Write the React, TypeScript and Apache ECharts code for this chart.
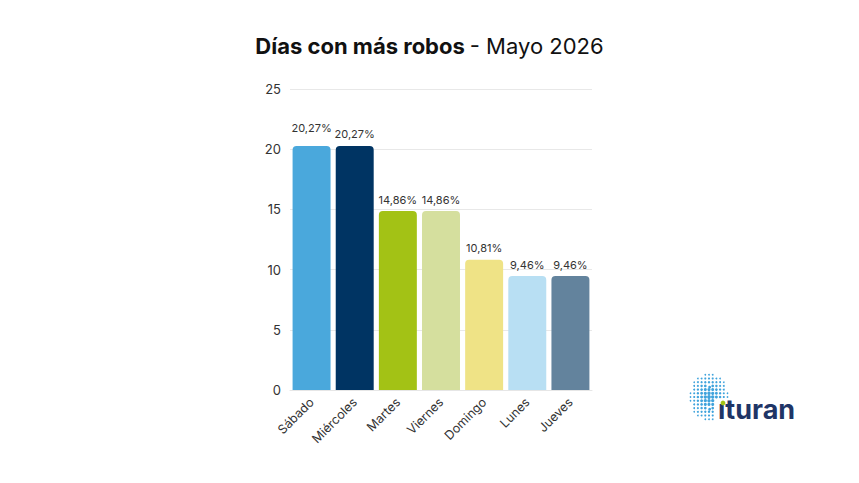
import React, { useEffect, useRef } from "react";
import * as echarts from "echarts";

const categories = ["Sábado", "Miércoles", "Martes", "Viernes", "Domingo", "Lunes", "Jueves"];
const values = [20.27, 20.27, 14.86, 14.86, 10.81, 9.46, 9.46];
const barColors = ["#4AA8DC", "#003463", "#A3C215", "#D5DF9E", "#EFE386", "#B8DFF3", "#63839D"];
const yTicks = [0, 5, 10, 15, 20, 25];

function logoDots(): any[] {
  const out: any[] = [];
  const cx = 709, cy = 397, rx = 19, ry = 24, step = 3.7;
  for (let i = -6; i <= 6; i++) {
    for (let j = -7; j <= 7; j++) {
      const x = cx + i * step;
      const y = cy + j * step;
      const d = Math.sqrt(((x - cx) / rx) ** 2 + ((y - cy) / ry) ** 2);
      if (d > 1) continue;
      if (x > 716 && y > 399) continue;
      const r = 0.8 + 1.1 * (1 - d);
      out.push({ type: "circle", shape: { cx: x, cy: y, r }, style: { fill: "#3FA3DC" }, silent: true });
    }
  }
  return out;
}

export default function App() {
  const ref = useRef<HTMLDivElement>(null);
  useEffect(() => {
    document.body.style.margin = "0";
    const chart = echarts.init(ref.current!, null, { renderer: "svg" });
    chart.setOption({
      animation: false,
      backgroundColor: "#ffffff",
      title: {
        left: "center",
        top: 30,
        text: "{b|Días con más robos} {r|- Mayo 2026}",
        textStyle: {
          rich: {
            b: { fontFamily: "Inter", fontWeight: "bold", fontSize: 22, color: "#111" },
            r: { fontFamily: "Inter", fontWeight: "normal", fontSize: 22, color: "#111" },
          },
        },
      },
      grid: { left: 290, right: 267, top: 89, bottom: 93 },
      xAxis: {
        type: "category",
        data: categories,
        axisLine: { lineStyle: { color: "#e6e6e6" } },
        axisTick: { show: false },
        axisLabel: { rotate: 45, fontSize: 12.5, color: "#333", fontFamily: "Inter", margin: 10, interval: 0 },
      },
      yAxis: {
        type: "value",
        min: yTicks[0],
        max: yTicks[yTicks.length - 1],
        interval: 5,
        axisLine: { show: false },
        axisTick: { show: false },
        axisLabel: { fontSize: 13, color: "#333", fontFamily: "Inter", margin: 9 },
        splitLine: { lineStyle: { color: "#e8e8e8" } },
      },
      series: [
        {
          type: "bar",
          barCategoryGap: "12%",
          data: values.map((v, i) => ({
            value: v,
            itemStyle: { color: barColors[i], borderRadius: [4, 4, 0, 0] },
            label: i === 0 ? { distance: 12 } : undefined,
          })),
          label: {
            show: true,
            position: "top",
            distance: 6,
            fontSize: 11,
            color: "#333",
            fontFamily: "Inter",
            formatter: (p: any) => p.value.toFixed(2).replace(".", ",") + "%",
          },
        },
      ],
      graphic: [
        ...logoDots(),
        {
          type: "text",
          left: 718,
          top: 396,
          style: { text: "ıturan", font: "bold 27px Inter", fill: "#1F3566" },
          silent: true,
        },
        { type: "circle", shape: { cx: 723, cy: 403, r: 2.4 }, style: { fill: "#A3C215" }, silent: true },
      ],
    });
    return () => chart.dispose();
  }, []);
  return <div ref={ref} style={{ width: 859, height: 483 }} />;
}
